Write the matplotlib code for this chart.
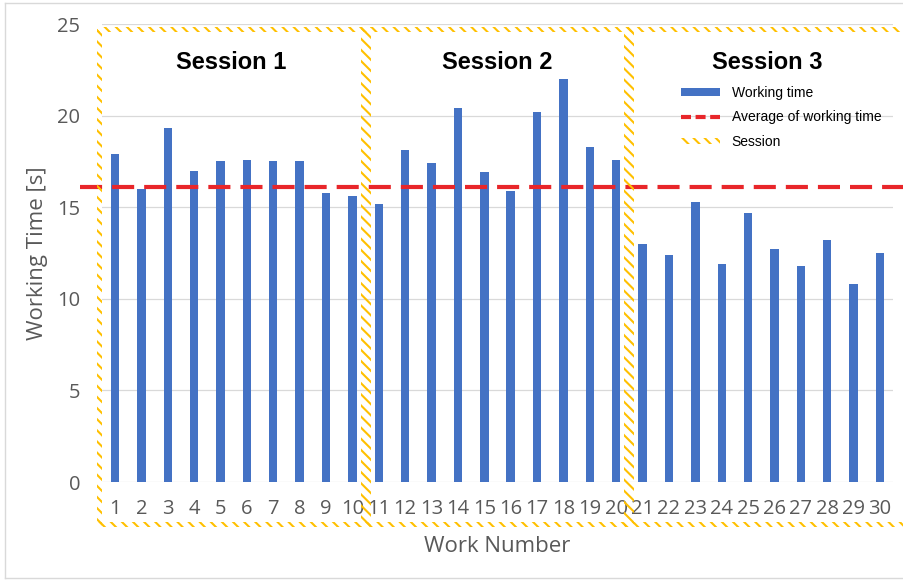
import matplotlib
matplotlib.use("Agg")
import matplotlib.pyplot as plt
import matplotlib.patches as mpatches
from matplotlib.lines import Line2D
from matplotlib.legend_handler import HandlerPatch
import numpy as np

# ---------------- data ----------------
work_numbers = list(range(1, 31))
working_time = [17.9, 16.0, 19.3, 17.0, 17.5, 17.6, 17.5, 17.5, 15.8, 15.6,
                15.2, 18.1, 17.4, 20.4, 16.9, 15.9, 20.2, 22.0, 18.3, 17.6,
                13.0, 12.4, 15.3, 11.9, 14.7, 12.7, 11.8, 13.2, 10.8, 12.5]
average_time = 16.1
session_names = ["Session 1", "Session 2", "Session 3"]
session_ranges = [(1, 10), (11, 20), (21, 30)]
y_ticks = [0, 5, 10, 15, 20, 25]

# ---------------- style ----------------
BLUE = "#4472C4"
RED = "#E8262A"
GOLD = "#FFC000"
GRID = "#D9D9D9"
TXT = "#595959"
plt.rcParams["hatch.linewidth"] = 1.5

W, H = 904, 580
fig = plt.figure(figsize=(W / 100, H / 100), dpi=100)
ax_left, ax_right = 101.8, 893.2
ax_bot, ax_top = 482, 24
ax = fig.add_axes([ax_left / W, 1 - ax_bot / H, (ax_right - ax_left) / W, (ax_bot - ax_top) / H])

ax.bar(work_numbers, working_time, width=0.32, color=BLUE, zorder=2)
ax.set_xlim(0.5, 30.5)
ax.set_ylim(0, 25)
ax.set_yticks(y_ticks)
ax.set_xticks(work_numbers)
ax.set_xticklabels([str(n) for n in work_numbers])
ax.yaxis.grid(True, color=GRID, linewidth=0.9)
ax.set_axisbelow(True)
for s in ax.spines.values():
    s.set_visible(False)
ax.tick_params(axis="both", length=0, colors=TXT, labelsize=14.5)
ax.tick_params(axis="y", pad=15.5)
ax.tick_params(axis="x", pad=12)
for lab in ax.get_xticklabels() + ax.get_yticklabels():
    lab.set_family("Open Sans")

ax.set_xlabel("Work Number", fontsize=16, color=TXT, family="Open Sans")
ax.set_ylabel("Working Time [s]", fontsize=16, color=TXT, family="Open Sans")
ax.xaxis.set_label_coords(0.5, (ax_bot - 547) / (ax_bot - ax_top))
ax.xaxis.label.set_va("center")
ax.yaxis.set_label_coords((38 - ax_left) / (ax_right - ax_left), 0.5)
ax.yaxis.label.set_va("center")

# average line (extends slightly beyond plot area)
ax.plot([-0.33, 30.95], [average_time, average_time], color=RED, linewidth=3,
        dashes=(5.3, 2.4), clip_on=False, zorder=3)

# session boxes with hatched borders
px_x = (ax_right - ax_left) / 30.0     # pixels per x unit
px_y = (ax_bot - ax_top) / 25.0        # pixels per y unit
band_x = 5 / px_x
band_y = 5 / px_y
y_low, y_high = -2.45, 24.85
pads = [(-0.18, 0.0), (0.0, 0.0), (0.0, 0.45)]
open_right = [False, False, True]
for (a, b), (pl, pr), opn, name in zip(session_ranges, pads, open_right, session_names):
    x0 = a - 0.5 + pl
    x1 = b + 0.5 + pr
    rects = [
        (x0, y_low, x1 - x0, band_y),                 # bottom
        (x0, y_high - band_y, x1 - x0, band_y),       # top
        (x0, y_low, band_x, y_high - y_low),          # left
    ]
    if not opn:
        rects.append((x1 - band_x, y_low, band_x, y_high - y_low))  # right
    for (rx, ry, rw, rh) in rects:
        ax.add_patch(mpatches.Rectangle((rx, ry), rw, rh, facecolor="none",
                                        edgecolor=GOLD, linewidth=0,
                                        hatch="\\\\\\", clip_on=False, zorder=4))
    ax.text((x0 + x1) / 2, 22.9, name, ha="center", va="center", fontsize=17,
            fontweight="bold", family="Liberation Sans", color="black", zorder=5)

# legend
def thin_patch(frac):
    def f(legend, orig_handle, xdescent, ydescent, width, height, fontsize):
        h = height * frac
        return mpatches.Rectangle((-xdescent, -ydescent + (height - h) / 2), width, h)
    return f

h_bar = mpatches.Rectangle((0, 0), 1, 1, facecolor=BLUE, edgecolor="none")
h_avg = Line2D([], [], color=RED, linewidth=3, dashes=(2.4, 1.1))
h_ses = mpatches.Rectangle((0, 0), 1, 1, facecolor="none", edgecolor=GOLD,
                           linewidth=0, hatch="\\\\\\")
leg = ax.legend([h_bar, h_avg, h_ses],
                ["Working time", "Average of working time", "Session"],
                handler_map={h_bar: HandlerPatch(patch_func=thin_patch(0.8)),
                             h_ses: HandlerPatch(patch_func=thin_patch(0.55))},
                loc="upper left", bbox_to_anchor=(681 / W, 1 - 86 / H),
                bbox_transform=fig.transFigure, frameon=False,
                prop={"family": "Liberation Sans", "size": 10},
                borderpad=0, borderaxespad=0, handlelength=2.8,
                handletextpad=0.85, labelspacing=0.75)
leg.set_zorder(6)

# outer border of the picture (left, top, bottom only; right side is cropped)
bx0, bx1 = 5.5 / W, 1.0
by0, by1 = 1 - 578 / H, 1 - 2.5 / H
for xs, ys in [([bx0, bx0], [by0, by1]), ([bx0, bx1], [by1, by1]), ([bx0, bx1], [by0, by0])]:
    fig.add_artist(Line2D(xs, ys, transform=fig.transFigure, color=GRID, linewidth=1))

fig.savefig("out.png", dpi=100)
